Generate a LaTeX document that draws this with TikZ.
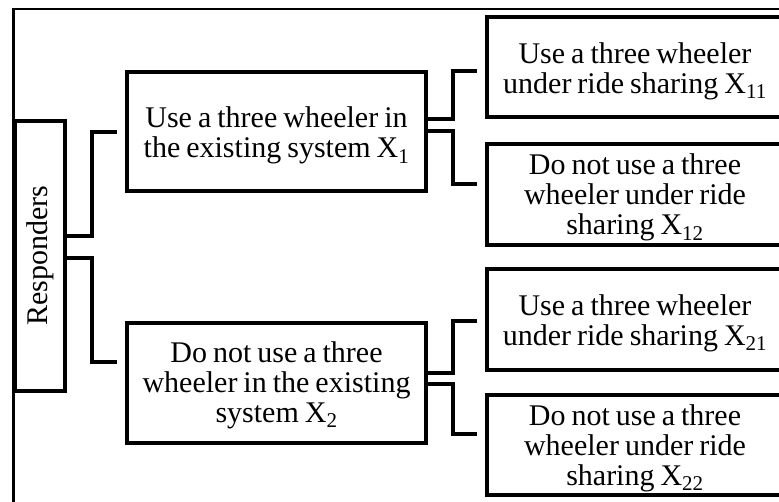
\documentclass[tikz,border=0pt]{standalone}
\usepackage{fontspec}
\setmainfont[WordSpace=0.8]{Liberation Serif}
\newcommand\topstrut[1]{\rule{0pt}{#1}}
\begin{document}
\begin{tikzpicture}[x=1pt,y=-1pt,
  box/.style={draw, line width=4pt, inner sep=0pt, align=center,
    font=\fontsize{30}{30}\selectfont},
  conn/.style={line width=4pt},
  frame/.style={line width=2.5pt}]
\useasboundingbox (0,0) rectangle (779,501);
\begin{scope}
\clip (0,0) rectangle (779,501);
\draw[frame] (13.5,520) -- (13.5,9) -- (800,9);
\node[box, minimum width=50pt, minimum height=270pt] (resp) at (40,256) {};
\node[rotate=90, font=\fontsize{30}{30}\selectfont] (resptxt) at (resp.center) {Responders};
\node[box, minimum width=299pt, minimum height=119pt] (b1) at (276.5,131.5)
  {\topstrut{29pt}Use a three wheeler in\\the existing system X\textsubscript{1}};
\node[box, minimum width=299pt, minimum height=120pt] (b2) at (276.5,383)
  {\topstrut{24.5pt}Do not use a three\\wheeler in the existing\\system X\textsubscript{2}};
\node[box, minimum width=296pt, minimum height=100pt] (b11) at (635,67)
  {\topstrut{29pt}Use a three wheeler\\under ride sharing X\textsubscript{11}};
\node[box, minimum width=296pt, minimum height=101pt] (b12) at (635,194.5)
  {\topstrut{27pt}Do not use a three\\wheeler under ride\\sharing X\textsubscript{12}};
\node[box, minimum width=296pt, minimum height=101pt] (b21) at (635,319.5)
  {\topstrut{28pt}Use a three wheeler\\under ride sharing X\textsubscript{21}};
\node[box, minimum width=296pt, minimum height=100pt] (b22) at (635,445)
  {\topstrut{27pt}Do not use a three\\wheeler under ride\\sharing X\textsubscript{22}};
% connector ends
\coordinate (e1) at (117,131.5);
\coordinate (e2) at (117,362);
\coordinate (e11) at (477,70.5);
\coordinate (e12) at (477,184);
\coordinate (e21) at (477,320.5);
\coordinate (e22) at (477,434);
\draw[conn] ([yshift=20pt]resp.east) -- ++(25,0) |- (e1);
\draw[conn] ([yshift=-1.5pt]resp.east) -- ++(25,0) |- (e2);
\draw[conn] ([yshift=13pt]b1.east) -- ++(25,0) |- (e11);
\draw[conn] ([yshift=0.5pt]b1.east) -- ++(25,0) |- (e12);
\draw[conn] ([yshift=10pt]b2.east) -- ++(25,0) |- (e21);
\draw[conn] ([yshift=-1pt]b2.east) -- ++(25,0) |- (e22);
\end{scope}
\end{tikzpicture}
\end{document}
